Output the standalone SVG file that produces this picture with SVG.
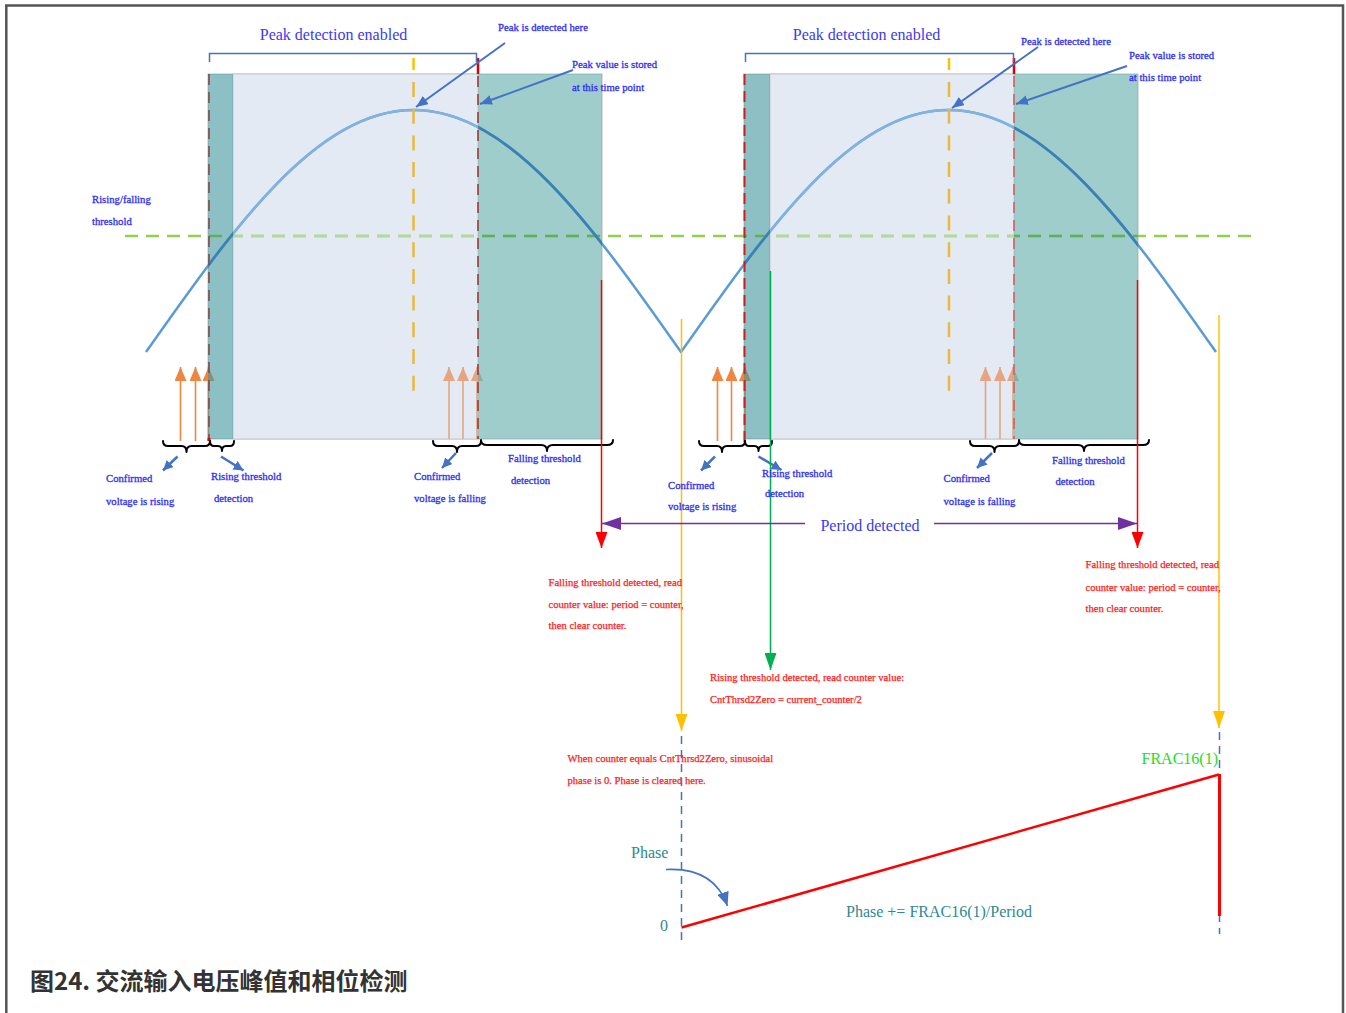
<svg xmlns="http://www.w3.org/2000/svg" width="1346" height="1013" viewBox="0 0 1346 1013">
<style>
.lbl{font-family:"Liberation Serif",serif;font-size:10.7px;fill:#2f2ff5;stroke:#2f2ff5;stroke-width:0.3}
.red{font-family:"Liberation Serif",serif;font-size:10.6px;fill:#ff1a1a;stroke:#ff1a1a;stroke-width:0.25}
.big{font-family:"Liberation Serif",serif;font-size:16px;fill:#3a3af5}
.teal{font-family:"Liberation Serif",serif;font-size:16px;fill:#2e8a8f}
.brace{fill:none;stroke:#000;stroke-width:2;stroke-linejoin:round;stroke-linecap:round}
.ann{stroke:#4472c4;stroke-width:2;fill:none}
.sml{stroke:#4472c4;stroke-width:2.5;fill:none}
</style>
<defs>
<path id="wave" d="M146,352 C233.2,228.1 316.5,110 413.5,110 C510.5,110 593.8,228.1 681,352 C768.2,228.1 851.5,110 948.5,110 C1045.5,110 1128.8,228.1 1216,352" fill="none" stroke-linejoin="round"/>
<path id="thr" d="M125,236 L1256,236" fill="none" stroke-dasharray="13 8"/>
<clipPath id="cLight"><rect x="233" y="74" width="245" height="365"/><rect x="770" y="74" width="244" height="365"/></clipPath>
<clipPath id="cTeal"><rect x="208" y="74" width="25" height="365"/><rect x="478" y="74" width="124" height="365"/><rect x="744" y="74" width="26" height="365"/><rect x="1014" y="74" width="124" height="365"/></clipPath>
<marker id="mOr" viewBox="0 0 14 12" refX="14" refY="6" markerWidth="14" markerHeight="12" markerUnits="userSpaceOnUse" orient="auto"><path d="M0,0 L14,6 L0,12 z" fill="#ef8540"/></marker>
<marker id="mSa" viewBox="0 0 14 12" refX="14" refY="6" markerWidth="14" markerHeight="12" markerUnits="userSpaceOnUse" orient="auto"><path d="M0,0 L14,6 L0,12 z" fill="#e6a582"/></marker>
<marker id="mBl" viewBox="0 0 12 10" refX="12" refY="5" markerWidth="12" markerHeight="10" markerUnits="userSpaceOnUse" orient="auto"><path d="M0,0 L12,5 L0,10 z" fill="#4472c4"/></marker>
<marker id="mBs" viewBox="0 0 10 10" refX="10" refY="5" markerWidth="10" markerHeight="10" markerUnits="userSpaceOnUse" orient="auto"><path d="M0,0 L10,5 L0,10 z" fill="#4472c4"/></marker>
<marker id="mRd" viewBox="0 0 16 12" refX="16" refY="6" markerWidth="16" markerHeight="12" markerUnits="userSpaceOnUse" orient="auto"><path d="M0,0 L16,6 L0,12 z" fill="#ff0000"/></marker>
<marker id="mYe" viewBox="0 0 17 12" refX="17" refY="6" markerWidth="17" markerHeight="12" markerUnits="userSpaceOnUse" orient="auto"><path d="M0,0 L17,6 L0,12 z" fill="#ffc000"/></marker>
<marker id="mGr" viewBox="0 0 17 12" refX="17" refY="6" markerWidth="17" markerHeight="12" markerUnits="userSpaceOnUse" orient="auto"><path d="M0,0 L17,6 L0,12 z" fill="#00b050"/></marker>
<marker id="mPu" viewBox="0 0 19 13" refX="19" refY="6.5" markerWidth="19" markerHeight="13" markerUnits="userSpaceOnUse" orient="auto"><path d="M0,0 L19,6.5 L0,13 z" fill="#7030a0"/></marker>
<marker id="mCv" viewBox="0 0 14 12" refX="14" refY="6" markerWidth="14" markerHeight="12" markerUnits="userSpaceOnUse" orient="auto"><path d="M0,0 L14,6 L0,12 z" fill="#4472c4"/></marker>
</defs>

<rect id="frame" x="6.3" y="5.5" width="1336.7" height="1030" fill="#fff" stroke="#555" stroke-width="2.5"/>

<g id="panel1-window">
<rect x="208" y="74" width="394" height="365" fill="#fff" stroke="#c8c8c8" stroke-width="1.2"/>
<rect x="233" y="74" width="245" height="365" fill="#e4eaf4" stroke="#c8c8c8" stroke-width="1"/>
</g>
<g id="panel2-window">
<rect x="744" y="74" width="394" height="365" fill="#fff" stroke="#c8c8c8" stroke-width="1.2"/>
<rect x="770" y="74" width="244" height="365" fill="#e4eaf4" stroke="#c8c8c8" stroke-width="1"/>
</g>

<g id="threshold-arrows">
<line x1="180.5" y1="441" x2="180.5" y2="367" stroke="#ef8540" stroke-width="1.6" marker-end="url(#mOr)"/>
<line x1="195.5" y1="441" x2="195.5" y2="367" stroke="#ef8540" stroke-width="1.6" marker-end="url(#mOr)"/>
<line x1="208.5" y1="441" x2="208.5" y2="367" stroke="#ef8540" stroke-width="1.6" marker-end="url(#mOr)"/>
<line x1="449" y1="439" x2="449" y2="367" stroke="#e6a582" stroke-width="1.6" marker-end="url(#mSa)"/>
<line x1="463" y1="439" x2="463" y2="367" stroke="#e6a582" stroke-width="1.6" marker-end="url(#mSa)"/>
<line x1="477" y1="439" x2="477" y2="367" stroke="#e6a582" stroke-width="1.6" marker-end="url(#mSa)"/>
<line x1="717.5" y1="441" x2="717.5" y2="367" stroke="#ef8540" stroke-width="1.6" marker-end="url(#mOr)"/>
<line x1="731.5" y1="441" x2="731.5" y2="367" stroke="#ef8540" stroke-width="1.6" marker-end="url(#mOr)"/>
<line x1="745" y1="441" x2="745" y2="367" stroke="#ef8540" stroke-width="1.6" marker-end="url(#mOr)"/>
<line x1="985.5" y1="439" x2="985.5" y2="367" stroke="#e6a582" stroke-width="1.6" marker-end="url(#mSa)"/>
<line x1="1000" y1="439" x2="1000" y2="367" stroke="#e6a582" stroke-width="1.6" marker-end="url(#mSa)"/>
<line x1="1013" y1="439" x2="1013" y2="367" stroke="#e6a582" stroke-width="1.6" marker-end="url(#mSa)"/>
</g>

<g id="detection-regions">
<rect x="208" y="74" width="25" height="365" fill="#41969d" fill-opacity="0.6"/>
<rect x="478" y="74" width="124" height="365" fill="#5dacA8" fill-opacity="0.6"/>
<rect x="744" y="74" width="26" height="365" fill="#41969d" fill-opacity="0.6"/>
<rect x="1014" y="74" width="124" height="365" fill="#5dacA8" fill-opacity="0.6"/>
</g>

<g id="signal">
<use href="#thr" stroke="#92d050" stroke-width="2.5"/>
<use href="#thr" stroke="#b4d9a0" stroke-width="2.5" clip-path="url(#cLight)"/>
<use href="#thr" stroke="#5fae62" stroke-width="2.5" clip-path="url(#cTeal)"/>
<use href="#wave" stroke="#5b9bd5" stroke-width="2.5"/>
<use href="#wave" stroke="#82b3df" stroke-width="2.5" clip-path="url(#cLight)"/>
<use href="#wave" stroke="#3a82b4" stroke-width="2.7" clip-path="url(#cTeal)"/>
</g>

<g id="markers-vertical">
<line x1="209" y1="74" x2="209" y2="439" stroke="#8a4848" stroke-width="1.6" stroke-dasharray="11 7"/>
<line x1="478" y1="58" x2="478" y2="74" stroke="#dd0000" stroke-width="2.5"/>
<line x1="478" y1="76" x2="478" y2="439" stroke="#9e3a3a" stroke-width="1.6" stroke-dasharray="11 7"/>
<line x1="413.5" y1="58" x2="413.5" y2="70" stroke="#ffc000" stroke-width="2.5"/>
<line x1="413.5" y1="82" x2="413.5" y2="400" stroke="#e9b93c" stroke-width="2.5" stroke-dasharray="15 11.7"/>
<line x1="744.5" y1="74" x2="744.5" y2="443" stroke="#cc1f1f" stroke-width="2" stroke-dasharray="11 6"/>
<line x1="1014" y1="58" x2="1014" y2="74" stroke="#dd0000" stroke-width="2.5"/>
<line x1="1014" y1="76" x2="1014" y2="439" stroke="#d06060" stroke-width="1.6" stroke-dasharray="11 7"/>
<line x1="949" y1="58" x2="949" y2="70" stroke="#ffc000" stroke-width="2.5"/>
<line x1="949" y1="82" x2="949" y2="400" stroke="#e9b93c" stroke-width="2.5" stroke-dasharray="15 11.7"/>
<rect x="207.5" y="438" width="3" height="3" fill="#e00000"/>
</g>

<g id="enable-brackets" fill="none" stroke="#4472c4" stroke-width="1.5">
<path d="M209.5,62 L209.5,53.5 L476.5,53.5 L476.5,62"/>
<path d="M745.5,62 L745.5,53.5 L1013.5,53.5 L1013.5,62"/>
</g>

<g id="braces">
<path class="brace" d="M163,441 Q163,446 168,446 L181.5,446 Q186.5,446 186.5,452 Q186.5,446 191.5,446 L205,446 Q210,446 210,441"/>
<path class="brace" d="M210,441 Q210,446 214,446 L218,446 Q222,446 222,451 Q222,446 226,446 L230,446 Q234,446 234,441"/>
<path class="brace" d="M433,441 Q433,446 438,446 L452,446 Q457,446 457,452 Q457,446 462,446 L476,446 Q481,446 481,441"/>
<path class="brace" d="M481,440 Q481,445 487,445 L541,445 Q547,445 547,451 Q547,445 553,445 L607,445 Q613,445 613,440"/>
<path class="brace" d="M699,441 Q699,446 704,446 L717,446 Q722,446 722,452 Q722,446 727,446 L740,446 Q745,446 745,441"/>
<path class="brace" d="M745,441 Q745,446 749,446 L754.5,446 Q758.5,446 758.5,451 Q758.5,446 762.5,446 L768,446 Q772,446 772,441"/>
<path class="brace" d="M970,441 Q970,446 975,446 L989.5,446 Q994.5,446 994.5,452 Q994.5,446 999.5,446 L1014,446 Q1019,446 1019,441"/>
<path class="brace" d="M1019,440 Q1019,445 1025,445 L1078,445 Q1084,445 1084,451 Q1084,445 1090,445 L1143,445 Q1149,445 1149,440"/>
</g>

<g id="connectors">
<line class="ann" x1="505" y1="43" x2="416" y2="107" marker-end="url(#mBl)"/>
<line class="ann" x1="573" y1="70" x2="480" y2="104" marker-end="url(#mBl)"/>
<line class="ann" x1="1038" y1="47" x2="952" y2="108" marker-end="url(#mBl)"/>
<line class="ann" x1="1127" y1="66" x2="1016" y2="104" marker-end="url(#mBl)"/>
<line class="sml" x1="177.5" y1="456.5" x2="163" y2="470.5" marker-end="url(#mBs)"/>
<line class="sml" x1="221" y1="456.5" x2="243.5" y2="470.5" marker-end="url(#mBs)"/>
<line class="sml" x1="456" y1="453" x2="442" y2="468" marker-end="url(#mBs)"/>
<line class="sml" x1="715" y1="456.5" x2="701" y2="470.5" marker-end="url(#mBs)"/>
<line class="sml" x1="758.5" y1="456.5" x2="781.5" y2="470" marker-end="url(#mBs)"/>
<line class="sml" x1="992" y1="453" x2="977" y2="468" marker-end="url(#mBs)"/>
<line x1="601.5" y1="280" x2="601.5" y2="548" stroke="#ff0000" stroke-width="1.5" marker-end="url(#mRd)"/>
<line x1="1137.5" y1="280" x2="1137.5" y2="548" stroke="#ff0000" stroke-width="1.5" marker-end="url(#mRd)"/>
<line x1="681.5" y1="319" x2="681.5" y2="731" stroke="#ffc000" stroke-width="1.5" marker-end="url(#mYe)"/>
<line x1="1219" y1="315" x2="1219" y2="728" stroke="#ffc000" stroke-width="1.5" marker-end="url(#mYe)"/>
<line x1="770.5" y1="271" x2="770.5" y2="670" stroke="#00b050" stroke-width="1.5" marker-end="url(#mGr)"/>
<line x1="681.5" y1="736" x2="681.5" y2="946" stroke="#4472c4" stroke-width="1.5" stroke-dasharray="8 6"/>
<line x1="1219.5" y1="732" x2="1219.5" y2="934" stroke="#4472c4" stroke-width="1.5" stroke-dasharray="8 6"/>
<line x1="805" y1="523.5" x2="602" y2="523.5" stroke="#7030a0" stroke-width="1.5" marker-end="url(#mPu)"/>
<line x1="934" y1="523.5" x2="1137" y2="523.5" stroke="#7030a0" stroke-width="1.5" marker-end="url(#mPu)"/>
<path d="M666,869.5 Q714,867 727.5,906" fill="none" stroke="#4472c4" stroke-width="1.6" marker-end="url(#mCv)"/>
</g>

<g id="phase-ramp" stroke="#ff0000" fill="none">
<line x1="681.5" y1="927.5" x2="1219" y2="774.5" stroke-width="2.5"/>
<line x1="1219.5" y1="774" x2="1219.5" y2="916" stroke-width="3"/>
</g>

<g id="labels-top">
<text class="big" x="333.5" y="40" text-anchor="middle">Peak detection enabled</text>
<text class="big" x="866.5" y="40" text-anchor="middle">Peak detection enabled</text>
<text class="lbl" x="498" y="31">Peak is detected here</text>
<text class="lbl" x="572" y="68">Peak value is stored</text>
<text class="lbl" x="572" y="91">at this time point</text>
<text class="lbl" x="1021" y="45">Peak is detected here</text>
<text class="lbl" x="1129" y="59">Peak value is stored</text>
<text class="lbl" x="1129" y="81">at this time point</text>
<text class="lbl" x="92" y="203">Rising/falling</text>
<text class="lbl" x="92" y="225">threshold</text>
</g>

<g id="labels-bottom1">
<text class="lbl" x="106" y="482">Confirmed</text>
<text class="lbl" x="106" y="505">voltage is rising</text>
<text class="lbl" x="211" y="480">Rising threshold</text>
<text class="lbl" x="214" y="502">detection</text>
<text class="lbl" x="414" y="480">Confirmed</text>
<text class="lbl" x="414" y="502">voltage is falling</text>
<text class="lbl" x="508" y="462">Falling threshold</text>
<text class="lbl" x="511" y="484">detection</text>
</g>

<g id="labels-bottom2">
<text class="lbl" x="668" y="488.5">Confirmed</text>
<text class="lbl" x="668" y="510">voltage is rising</text>
<text class="lbl" x="762" y="477">Rising threshold</text>
<text class="lbl" x="765" y="497">detection</text>
<text class="lbl" x="943.5" y="482">Confirmed</text>
<text class="lbl" x="943.5" y="504.5">voltage is falling</text>
<text class="lbl" x="1052" y="463.5">Falling threshold</text>
<text class="lbl" x="1055.5" y="484.5">detection</text>
</g>

<g id="period-label">
<text class="big" x="870" y="530.5" text-anchor="middle">Period detected</text>
</g>

<g id="notes-red">
<text class="red" x="548.5" y="586">Falling threshold detected, read</text>
<text class="red" x="548.5" y="608">counter value: period = counter,</text>
<text class="red" x="548.5" y="629">then clear counter.</text>
<text class="red" x="1085.5" y="568">Falling threshold detected, read</text>
<text class="red" x="1085.5" y="591">counter value: period = counter,</text>
<text class="red" x="1085.5" y="612">then clear counter.</text>
<text class="red" x="710" y="681">Rising threshold detected, read counter value:</text>
<text class="red" x="710" y="703">CntThrsd2Zero = current_counter/2</text>
<text class="red" x="567.5" y="762">When counter equals CntThrsd2Zero, sinusoidal</text>
<text class="red" x="567.5" y="784">phase is 0. Phase is cleared here.</text>
</g>

<g id="phase-labels">
<text x="1141.5" y="763.5" style="font-family:'Liberation Serif',serif;font-size:16px;fill:#22dd22">FRAC16(1)</text>
<text class="teal" x="631" y="858">Phase</text>
<text class="teal" x="660" y="930.5">0</text>
<text class="teal" x="846" y="917">Phase += FRAC16(1)/Period</text>
</g>

<text id="caption" x="30" y="990" style="font-family:'Noto Sans CJK SC','Noto Sans',sans-serif;font-size:24px;font-weight:bold;fill:#333">图24. 交流输入电压峰值和相位检测</text>
</svg>
